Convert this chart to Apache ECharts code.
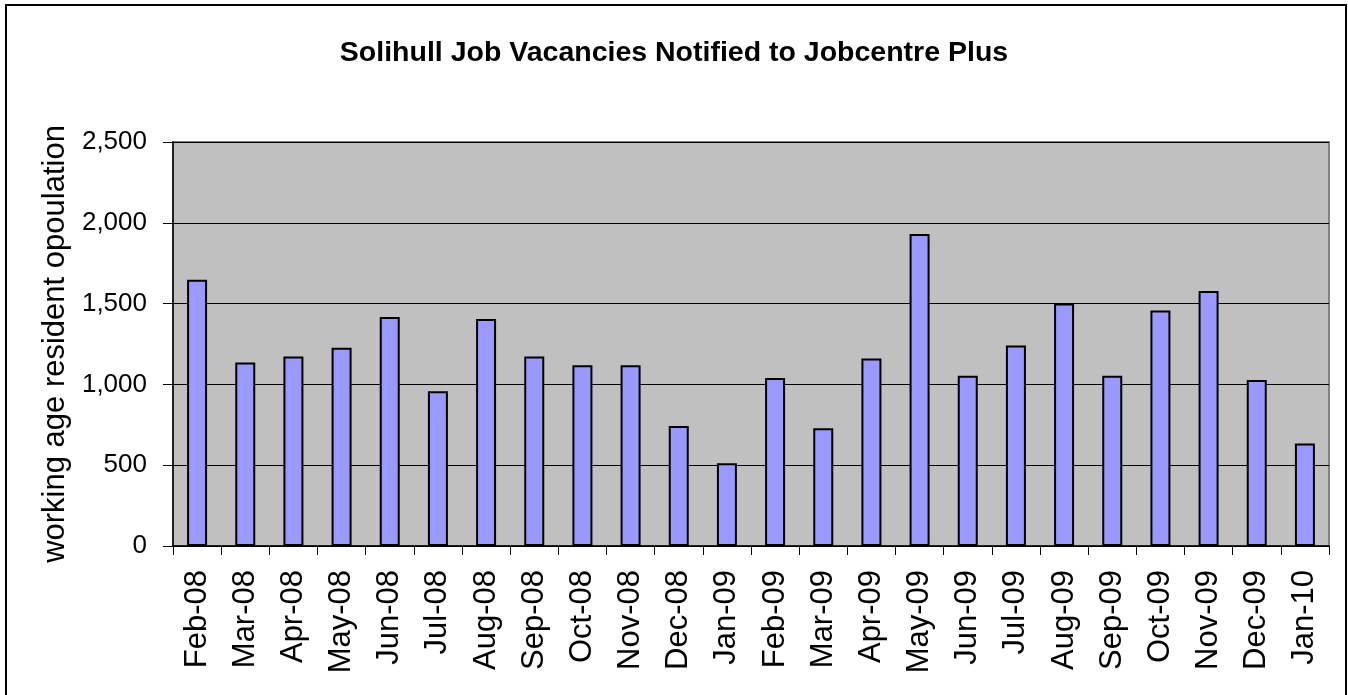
<!DOCTYPE html>
<html>
<head>
<meta charset="utf-8">
<script src="https://cdn.jsdelivr.net/npm/echarts@6/dist/echarts.min.js"></script>
<style>
  html, body { margin: 0; padding: 0; background: #fff; }
  #chart { width: 1348px; height: 695px; }
</style>
</head>
<body>
<div id="chart"></div>
<script>
const months = ['Feb-08', 'Mar-08', 'Apr-08', 'May-08', 'Jun-08', 'Jul-08', 'Aug-08', 'Sep-08',
  'Oct-08', 'Nov-08', 'Dec-08', 'Jan-09', 'Feb-09', 'Mar-09', 'Apr-09', 'May-09',
  'Jun-09', 'Jul-09', 'Aug-09', 'Sep-09', 'Oct-09', 'Nov-09', 'Dec-09', 'Jan-10']
const vacancies = [1648, 1136, 1173, 1227, 1417, 958, 1404, 1173,
  1119, 1119, 743, 512, 1039, 729, 1161, 1931,
  1053, 1241, 1501, 1053, 1458, 1578, 1028, 634]
const titleText = 'Solihull Job Vacancies Notified to Jobcentre Plus'
const yName = 'working age resident opoulation'

const font = 'Liberation Sans, Arial, sans-serif'
const chart = echarts.init(document.getElementById('chart'), null, {renderer: 'canvas'})

chart.setOption({
  animation: false,
  backgroundColor: '#fff',
  textStyle: {fontFamily: font},
  title: {
    text: titleText,
    left: 'center',
    top: 34,
    textStyle: {fontFamily: font, fontWeight: 'bold', fontSize: 28.5, color: '#000'}
  },
  graphic: [{
    type: 'rect',
    shape: {x: 6, y: 5, width: 1340, height: 700},
    style: {fill: 'none', stroke: '#000', lineWidth: 2},
    silent: true
  }],
  grid: {
    left: 173, top: 142, width: 1156, height: 404,
    show: true,
    backgroundColor: '#C0C0C0',
    borderColor: '#808080',
    borderWidth: 2
  },
  xAxis: {
    type: 'category',
    data: months,
    axisLine: {lineStyle: {color: '#000', width: 1.5}},
    axisTick: {show: true, length: 9, lineStyle: {color: '#000'}},
    axisLabel: {rotate: 90, margin: 24, fontSize: 31, color: '#000', fontFamily: font, interval: 0},
    splitLine: {show: false}
  },
  yAxis: {
    type: 'value',
    min: 0, max: 2500, interval: 500,
    name: yName,
    nameLocation: 'middle',
    nameGap: 100,
    nameTextStyle: {fontSize: 31, color: '#000', fontFamily: font},
    axisLine: {show: true, lineStyle: {color: '#000', width: 1.5}},
    axisTick: {show: true, length: 10, lineStyle: {color: '#000'}},
    axisLabel: {
      margin: 26, fontSize: 26, color: '#000', fontFamily: font,
      formatter: v => v.toLocaleString('en-GB')
    },
    splitLine: {lineStyle: {color: '#000', width: 1}}
  },
  series: [{
    type: 'bar',
    data: vacancies,
    barWidth: 20,
    itemStyle: {color: '#9999FF', borderColor: '#000', borderWidth: 2}
  }]
})
</script>
</body>
</html>
